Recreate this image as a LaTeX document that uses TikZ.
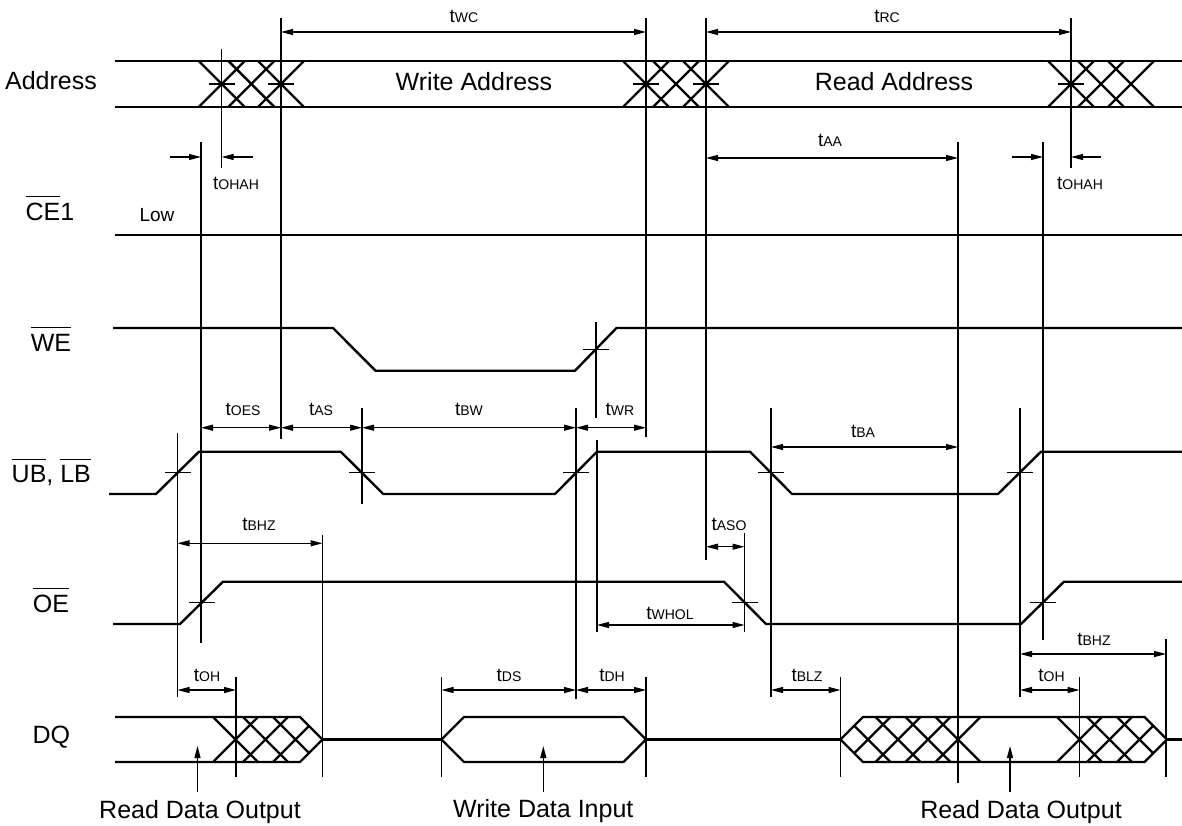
\documentclass[tikz,border=0pt]{standalone}
\usepackage{fontspec}
\setmainfont{Liberation Sans}
\usetikzlibrary{arrows.meta}
\newcommand{\ovl}[1]{\leavevmode\vbox{\hrule height 1pt\kern 6pt\hbox{#1}}}
\newcommand{\tsub}[1]{{\fontsize{19}{20}\selectfont t}{\fontsize{14}{15}\selectfont #1}}
\begin{document}
\begin{tikzpicture}[x=1pt,y=-1pt,
  sig/.style={line width=2.4pt, line join=miter},
  guide/.style={line width=1.1pt},
  dimarr/.style={line width=1.1pt, {Triangle[length=12pt,width=6pt]}-{Triangle[length=12pt,width=6pt]}},
  onearr/.style={line width=1.1pt, -{Triangle[length=12pt,width=6pt]}},
  lab/.style={font=\fontsize{25}{28}\selectfont, inner sep=0pt, anchor=base},
  tlab/.style={inner sep=0pt, anchor=base},
  lowlab/.style={font=\fontsize{19}{20}\selectfont, inner sep=0pt, anchor=base}
]
\useasboundingbox (0,0) rectangle (1182,826);

% ---------- signal names ----------
\node[lab] (nAddr) at (51,90) {Address};
\node[lab] (nCE) at (50,220.7) {\ovl{CE}1};
\node[lowlab] (nLow) at (157,222) {Low};
\node[lab] (nWE) at (51,351) {\ovl{WE}};
\node[lab] (nUB) at (51.3,482.7) {\ovl{UB}, \ovl{LB}};
\node[lab] (nOE) at (51,612.3) {\ovl{OE}};
\node[lab] (nDQ) at (51.3,743.3) {DQ};

% ---------- Address ----------
\draw[sig] (115,61) -- (1182,61);
\draw[sig] (115,107) -- (1182,107);
\begin{scope}
\clip (0,60) rectangle (1182,108);
\foreach \c in {221.7,251.3,281,646,676,706,1071,1101,1131}
  \draw[sig] (\c-23,61) -- (\c+23,107) (\c-23,107) -- (\c+23,61);
\end{scope}
\foreach \c in {221.7,281,646,706,1071}
  \draw[guide] (\c-13,84) -- (\c+13,84);
\node[lab] (nWA) at (474,91) {Write Address};
\node[lab] (nRA) at (894,91) {Read Address};

% ---------- CE1 ----------
\draw[sig] (115,235) -- (1182,235);

% ---------- WE ----------
\draw[sig] (113,328) -- (333,328) -- (375.5,370.7) -- (575,370.7) -- (616.5,328) -- (1182,328);
\draw[guide] (583,349.3) -- (609,349.3);

% ---------- UB, LB ----------
\draw[sig] (109,494) -- (156,494) -- (199,451.7) -- (340.7,451.7) -- (383.3,494)
  -- (555,494) -- (597,451.7) -- (750,451.7) -- (792,494) -- (998,494)
  -- (1041,451.7) -- (1182,451.7);
\foreach \c in {177.5,362,576,771,1019.5}
  \draw[guide] (\c-13,472.8) -- (\c+13,472.8);

% ---------- OE ----------
\draw[sig] (113,624) -- (180,624) -- (223,581.7) -- (724,581.7) -- (766,624)
  -- (1021,624) -- (1064,581.7) -- (1182,581.7);
\foreach \c in {201.5,745,1042.5}
  \draw[guide] (\c-13,602.8) -- (\c+13,602.8);

% ---------- DQ ----------
\draw[sig] (115,717) -- (300,717) -- (322.5,739.5) -- (300,762) -- (115,762);
\draw[sig] (322.5,739.5) -- (441.5,739.5);
\draw[sig] (441.5,739.5) -- (464,717) -- (623.5,717) -- (646,739.5) -- (623.5,762) -- (464,762) -- cycle;
\draw[sig] (646,739.5) -- (840.5,739.5);
\draw[sig] (840.5,739.5) -- (863,717) -- (1144.5,717) -- (1167,739.5) -- (1144.5,762) -- (863,762) -- cycle;
\draw[sig] (1167,739.5) -- (1182,739.5);
\begin{scope}
\clip (213,716) -- (300,716) -- (300,717) -- (322.5,739.5) -- (300,762) -- (300,763) -- (213,763) -- cycle;
\foreach \a in {213,243,273}
  \draw[sig] (\a,717) -- (\a+45,762) (\a,762) -- (\a+45,717);
\end{scope}
\begin{scope}
\clip (840.5,739.5) -- (863,717) -- (863,716) -- (1000,716) -- (1000,763) -- (863,763) -- (863,762) -- cycle;
\foreach \a in {845.5,875.5,905.5,935.5}
  \draw[sig] (\a,717) -- (\a+45,762) (\a,762) -- (\a+45,717);
\end{scope}
\begin{scope}
\clip (1050,716) -- (1144.5,716) -- (1144.5,717) -- (1167,739.5) -- (1144.5,762) -- (1144.5,763) -- (1050,763) -- cycle;
\foreach \a in {1057,1087,1117}
  \draw[sig] (\a,717) -- (\a+45,762) (\a,762) -- (\a+45,717);
\end{scope}

% ---------- guide lines ----------
\draw[guide] (201,142) -- (201,643);
\draw[guide] (221.7,49) -- (221.7,168);
\draw[guide] (281,18) -- (281,439);
\draw[guide] (646,18) -- (646,437);
\draw[guide] (646,677) -- (646,777);
\draw[guide] (706,18) -- (706,560);
\draw[guide] (958,142) -- (958,783);
\draw[guide] (1043,142) -- (1043,640);
\draw[guide] (1071,18) -- (1071,168);
\draw[guide] (177.5,433) -- (177.5,697);
\draw[guide] (362,408) -- (362,504);
\draw[guide] (596,322) -- (596,418);
\draw[guide] (597,440) -- (597,632);
\draw[guide] (576,408) -- (576,699);
\draw[guide] (744.5,533) -- (744.5,632);
\draw[guide] (771,408) -- (771,697);
\draw[guide] (1020,408) -- (1020,697);
\draw[guide] (322.5,535) -- (322.5,777);
\draw[guide] (236,677) -- (236,777);
\draw[guide] (441.5,677) -- (441.5,777);
\draw[guide] (840.5,677) -- (840.5,777);
\draw[guide] (1079.5,677) -- (1079.5,777);
\draw[guide] (1166,639) -- (1166,777);

% ---------- timing dimensions ----------
\draw[dimarr] (281,32) -- (646,32);
\node[tlab] (lWC) at (464,23) {\tsub{WC}};
\draw[dimarr] (706,32) -- (1071,32);
\node[tlab] (lRC) at (887,23) {\tsub{RC}};
\draw[onearr] (170,157) -- (201,157);
\draw[onearr] (253,157) -- (221.7,157);
\node[tlab] (lOHAH1) at (236,190) {\tsub{OHAH}};
\draw[dimarr] (706,158) -- (958,158);
\node[tlab] (lAA) at (830,146.5) {\tsub{AA}};
\draw[onearr] (1012,157) -- (1043,157);
\draw[onearr] (1101,157) -- (1071,157);
\node[tlab] (lOHAH2) at (1080,190) {\tsub{OHAH}};
\draw[dimarr] (201,427.7) -- (281,427.7);
\node[tlab] (lOES) at (243,415) {\tsub{OES}};
\draw[dimarr] (281,427.7) -- (362,427.7);
\node[tlab] (lAS) at (321,415) {\tsub{AS}};
\draw[dimarr] (362,427.7) -- (576,427.7);
\node[tlab] (lBW) at (469,415) {\tsub{BW}};
\draw[dimarr] (576,427.7) -- (646,427.7);
\node[tlab] (lWR) at (620,415) {\tsub{WR}};
\draw[dimarr] (771,447) -- (958,447);
\node[tlab] (lBA) at (863,437) {\tsub{BA}};
\draw[dimarr] (177.5,543.3) -- (322.5,543.3);
\node[tlab] (lBHZ1) at (259,530.7) {\tsub{BHZ}};
\draw[dimarr] (706,546.7) -- (744.5,546.7);
\node[tlab] (lASO) at (729,530) {\tsub{ASO}};
\draw[dimarr] (597,625) -- (744.5,625);
\node[tlab] (lWHOL) at (670,619) {\tsub{WHOL}};
\draw[dimarr] (177.5,690) -- (236,690);
\node[tlab] (lOH1) at (207,681.7) {\tsub{OH}};
\draw[dimarr] (441.5,690) -- (576,690);
\node[tlab] (lDS) at (509,681.7) {\tsub{DS}};
\draw[dimarr] (576,690) -- (646,690);
\node[tlab] (lDH) at (612,681.7) {\tsub{DH}};
\draw[dimarr] (771,690) -- (840.5,690);
\node[tlab] (lBLZ) at (807,681.7) {\tsub{BLZ}};
\draw[dimarr] (1020,690) -- (1079.5,690);
\node[tlab] (lOH2) at (1051.5,681.7) {\tsub{OH}};
\draw[dimarr] (1020,654) -- (1166,654);
\node[tlab] (lBHZ2) at (1094,645) {\tsub{BHZ}};

% ---------- data labels ----------
\node[lab] (rd1) at (200,818) {Read Data Output};
\node[lab] (wd) at (543.3,817) {Write Data Input};
\node[lab] (rd2) at (1021,818) {Read Data Output};
\coordinate (rd1t) at (197.5,746);
\coordinate (wdt) at (543.3,746);
\coordinate (rd2t) at (1010,746);
\draw[onearr] (197.5,791.7) -- (rd1t);
\draw[onearr] (543.3,791.7) -- (wdt);
\draw[onearr] (1010,791.7) -- (rd2t);
\end{tikzpicture}
\end{document}
